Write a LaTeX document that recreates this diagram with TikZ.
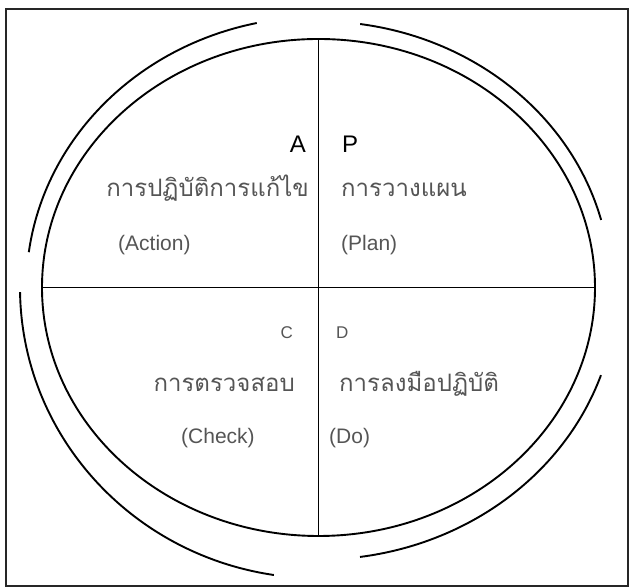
\documentclass[tikz,border=0pt]{standalone}
\usepackage{fontspec}
\setmainfont{Liberation Sans}
\newfontfamily\thaifont[Script=Thai]{Loma}
\definecolor{txtgray}{HTML}{555555}
\tikzset{
  frame/.style={draw=black!85, line width=2pt},
  ring/.style={draw=black, line width=1.9pt},
  bigletter/.style={font=\fontsize{24}{26}\selectfont, text=black, inner sep=0pt},
  smallletter/.style={font=\fontsize{17}{19}\selectfont, text=txtgray, inner sep=0pt},
  thaitext/.style={font=\thaifont\fontsize{24}{28}\selectfont, text=txtgray, inner sep=0pt},
  engtext/.style={font=\fontsize{21}{24}\selectfont, text=txtgray, inner sep=0pt}
}
\begin{document}
\begin{tikzpicture}[x=1pt,y=1pt]
\useasboundingbox (0,0) rectangle (630,588);
% frame
\draw[frame] (6,2) rectangle (628,579);
% inner ellipse and cross
\coordinate (c) at (318.5,300.5);
\draw[ring] (c) ellipse [x radius=276.5, y radius=248.5];
\draw[ring] (318.5,549) -- (318.5,52);
\draw[ring] (42,300.5) -- (595,300.5);
% outer arcs
\draw[ring] (c) ++(81.8:292.2 and 266.2) arc[start angle=81.8, end angle=14.7, x radius=292.2, y radius=266.2];
\draw[ring] (c) ++(102.2:292.2 and 270.6) arc[start angle=102.2, end angle=172.5, x radius=292.2, y radius=270.6];
\draw[ring] (c) ++(180.9:298.5 and 290.8) arc[start angle=180.9, end angle=261.4, x radius=298.5, y radius=290.8];
\draw[ring] (c) ++(341.2:298.4 and 272.1) arc[start angle=341.2, end angle=278, x radius=298.4, y radius=272.1];
% texts
\node[bigletter, anchor=base east] (A) at (306,435) {A};
\node[bigletter, anchor=base west] (P) at (342,435) {P};
\node[thaitext, anchor=base east] (actth) at (309,391) {การปฏิบัติการแก้ไข};
\node[thaitext, anchor=base west] (planth) at (341,391) {การวางแผน};
\node[engtext, anchor=base west] (act) at (118,337) {(Action)};
\node[engtext, anchor=base west] (plan) at (341,337) {(Plan)};
\node[smallletter, anchor=base east] (C) at (293,249) {C};
\node[smallletter, anchor=base west] (D) at (336,249) {D};
\node[thaitext, anchor=base east] (chkth) at (295,196) {การตรวจสอบ};
\node[thaitext, anchor=base west] (doth) at (339,196) {การลงมือปฏิบัติ};
\node[engtext, anchor=base west] (chk) at (181,144) {(Check)};
\node[engtext, anchor=base west] (do) at (329,144) {(Do)};
\end{tikzpicture}
\end{document}
